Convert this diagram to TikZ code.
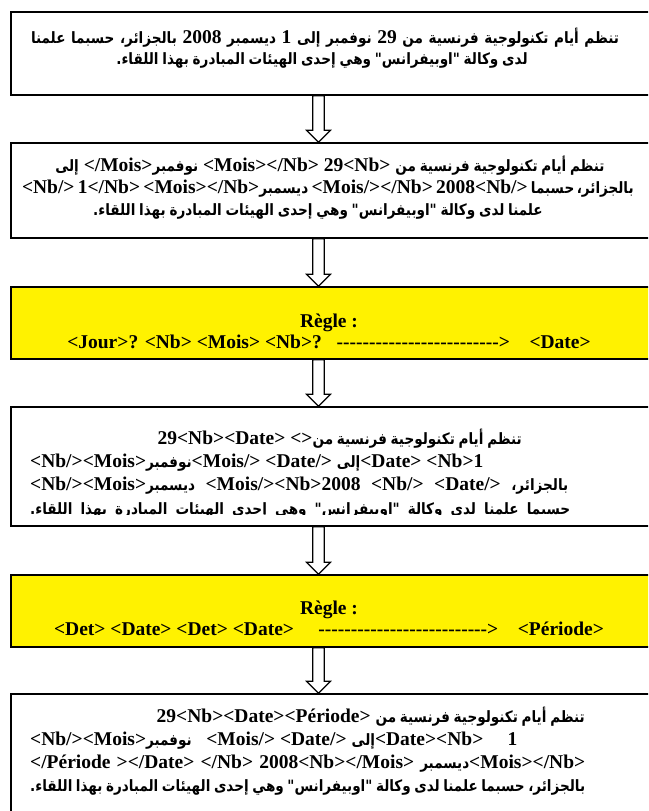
\documentclass[tikz,border=0pt]{standalone}
\usepackage{fontspec}
\setmainfont{Liberation Serif}[Ligatures=TeXOff]
\newfontfamily\arabicfont[Script=Arabic,Scale=0.80,FakeStretch=0.87,WordSpace=0.8]{DejaVu Sans}
\TeXXeTstate=1
\newcommand{\AR}[1]{{\arabicfont\bfseries\beginR #1\endR}}
% a justified line of a given width
\newcommand{\jline}[2]{\makebox[#1][s]{#2}}
\usetikzlibrary{calc}
\newcommand{\flowarrow}[2]{%
  \draw[flow] ($(ax|-#1.south)+(-5.7,0)$) -- ($(ax|-#2.north)+(-5.7,-12)$)
    -- ($(ax|-#2.north)+(-12,-12)$) -- (ax|-#2.north)
    -- ($(ax|-#2.north)+(12,-12)$) -- ($(ax|-#2.north)+(5.7,-12)$)
    -- ($(ax|-#1.south)+(5.7,0)$) -- cycle;}
\begin{document}
\begin{tikzpicture}[x=1pt,y=-1pt,
  box/.style={draw=black,line width=1.4pt,fill=white,inner sep=0pt,
    minimum width=652pt},
  rulebox/.style={box,fill=yellow},
  flow/.style={draw=black,line width=1.2pt,fill=white,line join=miter},
  txt/.style={inner sep=0pt,anchor=base,font=\fontsize{19.5}{22}\selectfont\bfseries},
  txtl/.style={txt,anchor=base west},
  txtr/.style={txt,anchor=base east}]
\useasboundingbox (0,0) rectangle (648,811);
\clip (0,0) rectangle (648,811);
\coordinate (ax) at (318.5,0);
% boxes
\node[box,minimum height=83pt] (b1) at (337,53.5) {};
\node[box,minimum height=95pt] (b2) at (337,190.5) {};
\node[rulebox,minimum height=72pt] (b3) at (337,323) {};
\node[box,minimum height=119pt] (b4) at (337,466.5) {};
\node[rulebox,minimum height=72pt] (b5) at (337,611) {};
\node[box,minimum height=140pt] (b6) at (337,764) {};
% block arrows between the stages
\flowarrow{b1}{b2}
\flowarrow{b2}{b3}
\flowarrow{b3}{b4}
\flowarrow{b4}{b5}
\flowarrow{b5}{b6}
% stage 1
\node[txt] (t11) at (325,43) {\jline{588pt}{\AR{تنظم أيام تكنولوجية فرنسية من {\rmfamily 29} نوفمبر إلى {\rmfamily 1} ديسمبر {\rmfamily 2008} بالجزائر، حسبما علمنا}}};
\node[txt] (t12) at (322,64) {\AR{لدى وكالة "اوبيفرانس" وهي إحدى الهيئات المبادرة بهذا اللقاء.}};
% stage 2
\node[txt] (t21) at (330,171) {\AR{إلى} </Mois>\AR{نوفمبر} <Mois></Nb> 29<Nb> \AR{تنظم أيام تكنولوجية فرنسية من}};
\node[txt] (t22) at (318,193) {\jline{592pt}{<Nb/> 1</Nb> <Mois></Nb>\AR{ديسمبر} <Mois/></Nb> 2008<Nb/> \AR{بالجزائر، حسبما}}};
\node[txt] (t23) at (318,215) {\AR{علمنا لدى وكالة "اوبيفرانس" وهي إحدى الهيئات المبادرة بهذا اللقاء.}};
% rule 1
\node[txt] (t31) at (329,327) {Règle :};
\node[txt] (t32) at (329,348) {<Jour>? <Nb> <Mois> <Nb>?\ \ \ ------------------------->\ \ \ \ <Date>};
% stage 3
\node[txtr] (t41) at (522,444) {29<Nb><Date> <>\AR{تنظم أيام تكنولوجية فرنسية من}};
\node[txtl] (t42) at (30,467) {<Nb/><Mois>\AR{نوفمبر}<Mois/> <Date/> \AR{إلى}<Date> <Nb>1};
\node[txtl] (t43) at (30,490) {\jline{538pt}{<Nb/><Mois>\AR{ديسمبر} <Mois/><Nb>2008 <Nb/> <Date/> \AR{بالجزائر،}}};
\begin{scope}
\clip (0,500) rectangle (648,514.5);
\node[txtl] (t44) at (30,514) {\jline{540pt}{\AR{حسبما علمنا لدى وكالة "اوبيفرانس" وهي إحدى الهيئات المبادرة بهذا اللقاء.}}};
\end{scope}
% rule 2
\node[txt] (t51) at (329,614) {Règle :};
\node[txt] (t52) at (329,635) {<Det> <Date> <Det> <Date>\ \ \ \ \ -------------------------->\ \ \ \ <Période>};
% stage 4
\node[txtr] (t61) at (585,722) {29<Nb><Date><Période> \AR{تنظم أيام تكنولوجية فرنسية من}};
\node[txtl] (t62) at (30,745) {<Nb/><Mois>\AR{نوفمبر}\ \ \ <Mois/> <Date/> \AR{إلى}<Date><Nb>\ \ \ \ \ 1};
\node[txtl] (t63) at (30,768) {\jline{555pt}{</Période ></Date> </Nb> 2008<Nb></Mois> \AR{ديسمبر}<Mois></Nb>}};
\node[txtl] (t64) at (30,791) {\jline{555pt}{\AR{بالجزائر، حسبما علمنا لدى وكالة "اوبيفرانس" وهي إحدى الهيئات المبادرة بهذا اللقاء.}}};
\end{tikzpicture}
\end{document}
